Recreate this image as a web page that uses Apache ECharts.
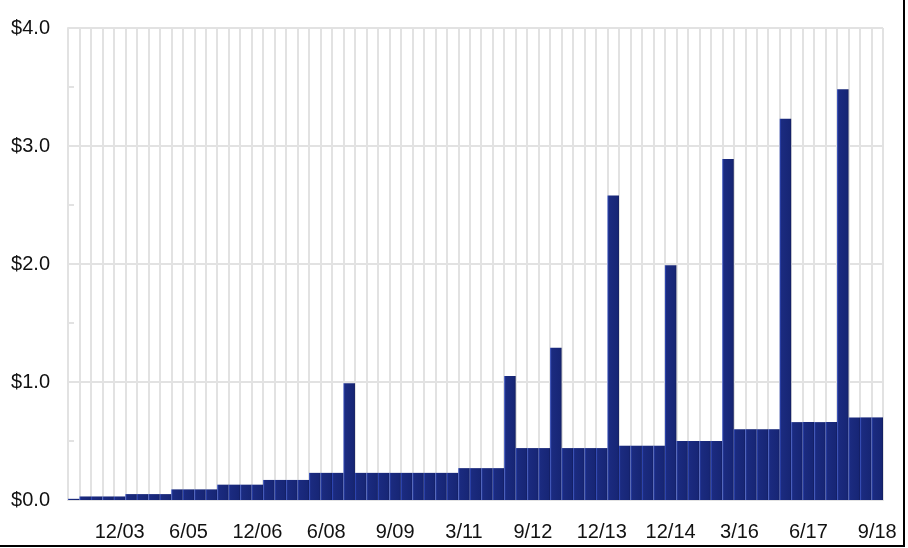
<!DOCTYPE html>
<html>
<head>
<meta charset="utf-8">
<style>
  html, body { margin: 0; padding: 0; background: #ffffff; }
  #chart { width: 908px; height: 548px; }
</style>
<script src="https://cdn.jsdelivr.net/npm/echarts@6/dist/echarts.min.js"></script>
</head>
<body>
<div id="chart"></div>
<script>
// Payment dates (one entry per dividend, specials included)
const categories = [
  '12/02','3/03','6/03','9/03','12/03','3/04','6/04','9/04','12/04','3/05',
  '6/05','9/05','12/05','3/06','6/06','9/06','12/06','3/07','6/07','9/07',
  '12/07','3/08','6/08','9/08','11/08','12/08','3/09','6/09','9/09','12/09',
  '3/10','6/10','9/10','12/10','3/11','6/11','9/11','12/11','3/12','6/12',
  '9/12','12/12','12/12','3/13','6/13','9/13','12/13','12/13','3/14','6/14',
  '9/14','12/14','12/14','3/15','6/15','9/15','12/15','12/15','3/16','6/16',
  '9/16','12/16','12/16','3/17','6/17','9/17','12/17','12/17','3/18','6/18',
  '9/18'
];
// Dividend per payment, dollars
const dividends = [
  0.01, 0.03, 0.03, 0.03, 0.03, 0.05, 0.05, 0.05, 0.05, 0.09,
  0.09, 0.09, 0.09, 0.13, 0.13, 0.13, 0.13, 0.17, 0.17, 0.17,
  0.17, 0.23, 0.23, 0.23, 0.99, 0.23, 0.23, 0.23, 0.23, 0.23,
  0.23, 0.23, 0.23, 0.23, 0.27, 0.27, 0.27, 0.27, 1.05, 0.44,
  0.44, 0.44, 1.29, 0.44, 0.44, 0.44, 0.44, 2.58, 0.46, 0.46,
  0.46, 0.46, 1.99, 0.50, 0.50, 0.50, 0.50, 2.89, 0.60, 0.60,
  0.60, 0.60, 3.23, 0.66, 0.66, 0.66, 0.66, 3.48, 0.70, 0.70,
  0.70
];
const yTicks = [0, 1, 2, 3, 4];
const labelEvery = 6;
const labelOffset = 4;

const chart = echarts.init(document.getElementById('chart'), null, { renderer: 'canvas' });
const gridColor = '#e2e2e2';
const textStyle = { color: '#111111', fontFamily: 'Liberation Sans, Arial, sans-serif', fontSize: 20 };

chart.setOption({
  animation: false,
  backgroundColor: '#ffffff',
  grid: { left: 68, right: 25, top: 28, bottom: 48, containLabel: false },
  xAxis: {
    type: 'category',
    data: categories,
    boundaryGap: true,
    axisLine: { show: true, lineStyle: { color: gridColor, width: 2 } },
    axisTick: { show: false },
    splitLine: { show: true, interval: 0, lineStyle: { color: gridColor, width: 2 } },
    axisLabel: Object.assign({
      interval: (i) => i % labelEvery === labelOffset,
      margin: 22,
      hideOverlap: false
    }, textStyle)
  },
  yAxis: {
    type: 'value',
    min: yTicks[0],
    max: yTicks[yTicks.length - 1],
    interval: 1,
    axisLine: { show: true, lineStyle: { color: gridColor, width: 2 } },
    axisTick: { show: true, inside: true, length: 6, lineStyle: { color: gridColor, width: 2 } },
    minorTick: { show: true, splitNumber: 2, length: 6, lineStyle: { color: gridColor, width: 2 } },
    splitLine: { show: true, lineStyle: { color: gridColor, width: 2 } },
    axisLabel: Object.assign({
      margin: 18,
      padding: [0, 0, 5, 0],
      formatter: (v) => '$' + v.toFixed(1)
    }, textStyle)
  },
  series: [{
    type: 'bar',
    data: dividends,
    barCategoryGap: '0%',
    barGap: '0%',
    itemStyle: {
      color: new echarts.graphic.LinearGradient(0, 0, 1, 0, [
        { offset: 0, color: '#3550c4' },
        { offset: 0.14, color: '#1b2b80' },
        { offset: 0.86, color: '#172676' },
        { offset: 1, color: '#121d5e' }
      ])
    }
  }],
  graphic: [
    { type: 'line', shape: { x1: 904, y1: 0, x2: 904, y2: 547 }, style: { stroke: '#000', lineWidth: 2 } },
    { type: 'line', shape: { x1: 0, y1: 546, x2: 905, y2: 546 }, style: { stroke: '#000', lineWidth: 2 } }
  ]
});
</script>
</body>
</html>
